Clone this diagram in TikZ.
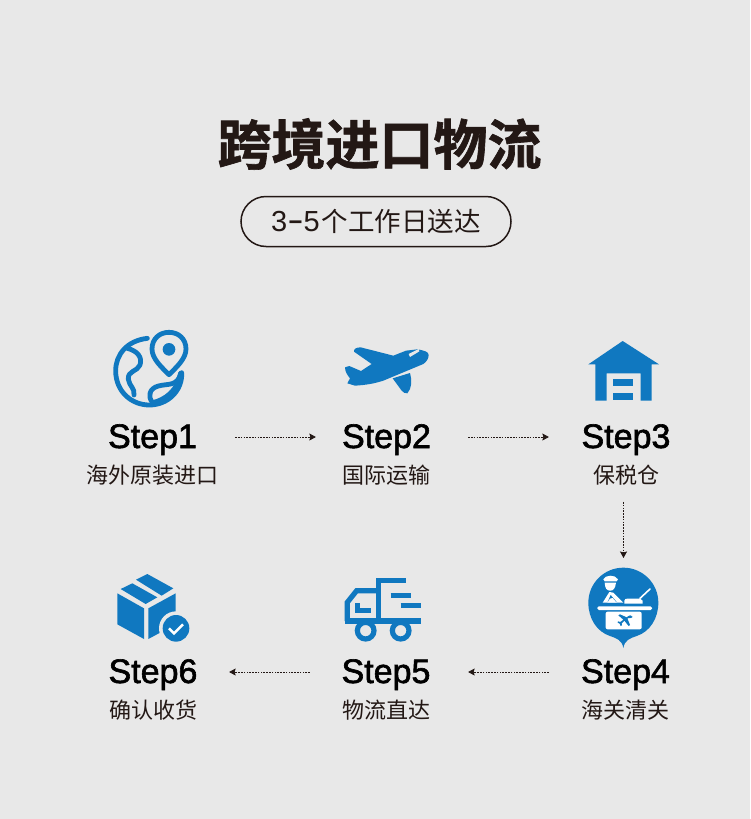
\documentclass[tikz,border=0pt]{standalone}
\usepackage{xcolor}
\usepackage{graphicx}
\usepackage{fontspec}
\usepackage{tikz}
\usetikzlibrary{arrows.meta,positioning}
\setmainfont{Liberation Sans}[FakeBold=1.8]
\newfontfamily\pilldigits{Liberation Sans}
\newfontfamily\cjk{Noto Sans CJK SC}
\newfontfamily\cjkbold{Noto Sans CJK SC Bold}[FakeBold=1.2]
\definecolor{pagegray}{RGB}{232,232,232}
\definecolor{iconblue}{RGB}{16,120,192}
\definecolor{inkdark}{RGB}{35,24,21}
\tikzset{
    steptitle/.style={
        inner sep=0pt,
        text height=22pt,
        text depth=0pt,
        text=black,
        font=\fontsize{34}{34}\selectfont
    },
    stepnote/.style={
        inner sep=0pt,
        text=inkdark,
        font=\cjk\fontsize{22}{22}\selectfont
    },
    flowarrow/.style={
        draw=inkdark,
        line width=0.8pt,
        dash pattern=on 1.6pt off 1.2pt,
        -{Stealth[length=6.5pt,width=7pt,inset=1pt]}
    },
    iconline/.style={
        draw=iconblue,
        line width=4.8pt,
        line cap=round,
        line join=round
    },
    truckline/.style={
        draw=iconblue,
        line width=5.2pt,
        line cap=butt,
        line join=miter
    },
    iconfill/.style={
        fill=iconblue,
        draw=none
    },
    iconcut/.style={
        fill=pagegray,
        draw=none
    }
}

\begin{document}
\begin{tikzpicture}[x=1pt,y=-1pt]
\fill[pagegray] (0,0) rectangle (750,819);
\useasboundingbox (0,0) rectangle (750,819);

% Title
\node[inner sep=0pt, text=inkdark, font=\cjkbold\fontsize{54}{54}\selectfont] (title) at (379.5,144) {跨境进口物流};
\node[draw=inkdark, line width=1.5pt, rounded corners=25pt, minimum width=270pt, minimum height=50pt, inner sep=0pt, text=inkdark] (pill) at (376,221.5) {\raisebox{-1.5pt}{\pilldigits\fontsize{29}{29}\selectfont 3\scalebox{1.7}[1.2]{-}5\hspace{2pt}\cjk\fontsize{26.5}{26.5}\selectfont 个工作日送达}};

% Steps, top row
\node[steptitle] (step1) at (152.5,437) {Step1};
\node[stepnote, below=17pt of step1] (note1) {海外原装进口};
\node[steptitle] (step2) at (386.5,437) {Step2};
\node[stepnote, below=17pt of step2] (note2) {国际运输};
\node[steptitle] (step3) at (626,437) {Step3};
\node[stepnote, below=17pt of step3] (note3) {保税仓};

% Steps, bottom row
\node[steptitle] (step4) at (625.5,672) {Step4};
\node[stepnote, below=17pt of step4] (note4) {海关清关};
\node[steptitle] (step5) at (386,672) {Step5};
\node[stepnote, below=17pt of step5] (note5) {物流直达};
\node[steptitle] (step6) at (153,672) {Step6};
\node[stepnote, below=17pt of step6] (note6) {确认收货};

% Globe
\begin{scope}[shift={(90,320)},scale=1/3]
\draw[iconline] (172,55) .. controls (110,62) and (77,105) .. (77,152) .. controls (77,215) and (125,255) .. (178,255) .. controls (235,255) and (278,210) .. (275,158);
\draw[iconline] (112,85) .. controls (140,92) and (158,110) .. (150,135) .. controls (142,155) and (112,152) .. (115,178) .. controls (118,198) and (135,205) .. (132,225);
\draw[iconline] (272,160) .. controls (262,200) and (235,190) .. (205,198) .. controls (178,205) and (172,230) .. (188,248);
\draw[iconline] (272,160) .. controls (265,210) and (225,240) .. (188,248);
\draw[iconline] (237,164) .. controls (215,142) and (186,116) .. (186,87) .. controls (186,57) and (208,37) .. (237,37) .. controls (266,37) and (288,57) .. (288,87) .. controls (288,116) and (259,142) .. (237,164) -- cycle;
\fill[iconblue] (237,88) circle (19);
\end{scope}

% Plane
\begin{scope}[shift={(330,330)},scale=1/3]
\fill[iconfill] (296,75) .. controls (295,65) and (285,62) .. (262,58) -- (228,62) -- (190,77) -- (92,52) .. controls (78,52) and (70,58) .. (72,65) -- (125,102) -- (93,123) -- (58,108) -- (45,112) .. controls (45,125) and (52,135) .. (60,145) -- (52,160) -- (75,167) .. controls (110,165) and (135,160) .. (160,152) -- (280,102) .. controls (290,95) and (296,85) .. (296,75) -- cycle;
\fill[iconfill] (188,145) -- (240,129) .. controls (246,150) and (246,175) .. (232,190) .. controls (225,190) and (220,188) .. (215,182) -- cycle;
\fill[iconcut] (266,57) -- (236,72) -- (240,81) -- (268,64) -- cycle;
\end{scope}

% Warehouse
\begin{scope}[shift={(570,330)},scale=1/3]
\fill[iconfill] (158,33) -- (267,103) -- (245,103) -- (245,212) -- (212,212) -- (212,130) -- (110,130) -- (110,212) -- (76,212) -- (76,103) -- (55,103) -- cycle;
\fill[iconfill] (130,147) rectangle (190,168);
\fill[iconfill] (130,190) rectangle (190,211);
\end{scope}

% Customs
\coordinate (customs) at (623.5,567);
\begin{scope}[shift={(570,560)},scale=1/3]
\fill[iconfill] (160,264) .. controls (156,240) and (140,235) .. (120,228) .. controls (80,215) and (55,175) .. (55,128) .. controls (55,70) and (102,23) .. (160,23) .. controls (218,23) and (265,70) .. (265,128) .. controls (265,175) and (240,215) .. (200,228) .. controls (180,235) and (164,240) .. (160,264) -- cycle;
\fill[white] (100,58) .. controls (105,45) and (135,42) .. (144,58) -- (140,64) -- (104,64) -- cycle;
\fill[white] (104,68) -- (138,68) .. controls (136,85) and (130,92) .. (121,92) .. controls (110,92) and (105,85) .. (104,68) -- cycle;
\fill[white] (118,96) -- (98,128) -- (160,128) -- (150,118) -- (130,98) -- cycle;
\fill[iconfill] (122,105) -- (113,126) -- (140,126) -- cycle;
\fill[white] (120,116) -- (112,128) -- (140,128) -- (128,114) -- cycle;
\fill[white] (163,122) .. controls (163,117) and (168,116) .. (172,116) -- (210,116) -- (218,122) -- (218,131) -- (163,131) -- cycle;
\draw[white, line width=1.6pt, line cap=round] (210,115) -- (240,87);
\fill[white, rounded corners=1.5pt] (82,139) rectangle (246,150);
\fill[white, rounded corners=2pt] (107,155) rectangle (215,208);
\fill[iconfill] (188,171) .. controls (186,163) and (178,165) .. (170,172) -- (150,163) -- (145,166) -- (160,179) -- (151,186) -- (144,184) -- (143,188) -- (149,191) -- (152,198) -- (156,196) -- (155,190) -- (163,182) -- (176,198) -- (180,195) -- (172,175) .. controls (180,172) and (188,176) .. (188,171) -- cycle;
\end{scope}

% Truck
\begin{scope}[shift={(335,565)},scale=1/3]
\draw[truckline] (212,47) -- (130,47) -- (130,168);
\draw[truckline] (167,92) -- (227,92);
\draw[truckline] (197,122) -- (257,122);
\draw[truckline] (257,168) -- (30,168);
\draw[truckline] (37,168) -- (37,112) -- (65,77) -- (130,77);
\draw[truckline] (68,115) -- (68,137) -- (107,137);
\draw[truckline] (92,197) circle (25);
\draw[truckline] (197,197) circle (25);
\end{scope}

% Box
\begin{scope}[shift={(100,565)},scale=1/3]
\fill[iconfill] (108,44) -- (142,27) -- (220,70) -- (185,92) -- cycle;
\fill[iconfill] (62,72) -- (97,55) -- (172,97) -- (137,117) -- cycle;
\fill[iconfill] (52,85) -- (132,130) -- (132,222) -- (52,178) -- cycle;
\fill[iconfill] (145,130) -- (227,85) -- (227,178) -- (145,222) -- cycle;
\fill[iconcut] (228,190) circle (51);
\fill[iconblue] (228,190) circle (40);
\draw[white, line width=2.6pt] (207,190) -- (222,205) -- (249,178);
\end{scope}

% Connectors
\draw[flowarrow, shorten <=38pt, shorten >=26pt] (step1.east) -- (step2.west);
\draw[flowarrow, shorten <=37pt, shorten >=32.5pt] (step2.east) -- (step3.west);
\draw[flowarrow, shorten <=16pt, shorten >=9pt] (note3.south -| customs) -- (customs);
\draw[flowarrow, shorten <=32pt, shorten >=37.5pt] (step4.west) -- (step5.east);
\draw[flowarrow, shorten <=31.5pt, shorten >=31.5pt] (step5.west) -- (step6.east);
\end{tikzpicture}
\end{document}
